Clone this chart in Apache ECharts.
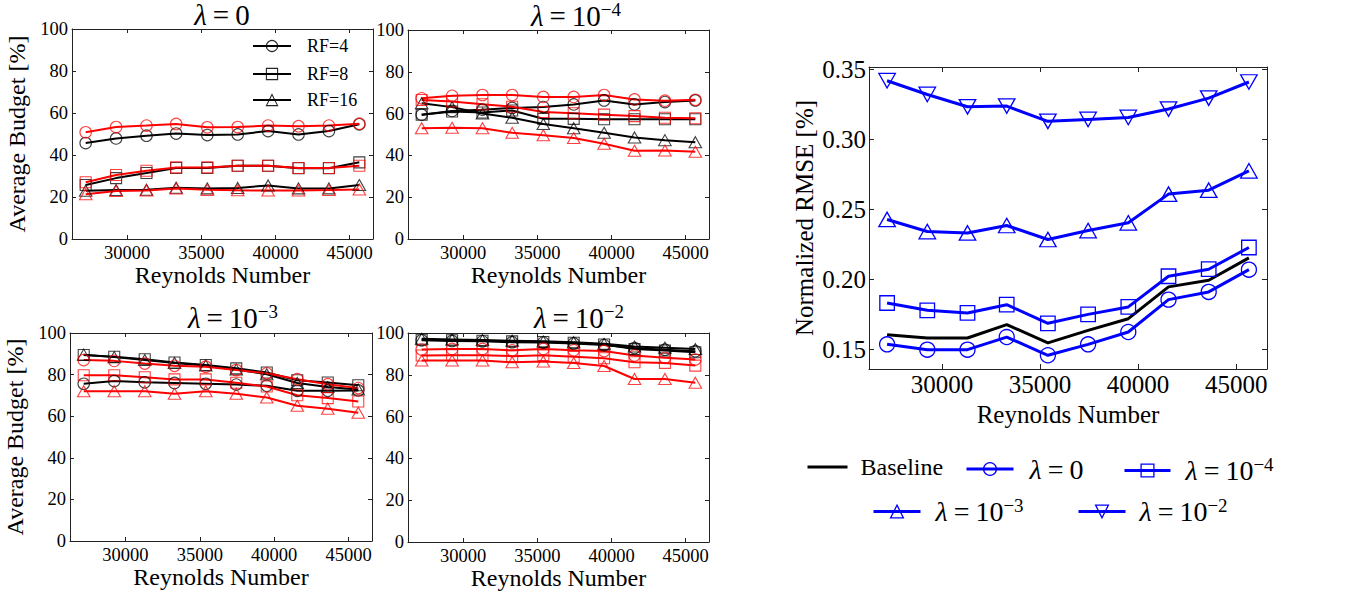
<!DOCTYPE html>
<html><head><meta charset="utf-8">
<script src="https://cdn.jsdelivr.net/npm/echarts@6/dist/echarts.min.js"></script>
<style>html,body{margin:0;padding:0;background:#fff}#c{width:1356px;height:593px}</style>
</head><body><div id="c"></div>
<script>
// ---------- data ----------
const reynolds = [27200, 29250, 31300, 33300, 35400, 37450, 39500, 41550, 43600, 45650];
const reTicks = [30000, 35000, 40000, 45000];
const budgetTicks = [0, 20, 40, 60, 80, 100];
const rmseTicks = [0.15, 0.20, 0.25, 0.30, 0.35];
const rfNames = ['RF=4', 'RF=8', 'RF=16'];

// lambda = 0
const lam0BlackRF4 = [45.7, 47.9, 49.2, 50.2, 49.5, 49.8, 51.4, 49.8, 51.4, 54.6];
const lam0BlackRF8 = [25.7, 29.0, 31.4, 33.8, 33.8, 34.9, 34.9, 33.7, 33.7, 36.5];
const lam0BlackRF16 = [23.0, 23.3, 23.5, 24.4, 24.1, 24.3, 25.5, 24.1, 24.1, 25.7];
const lam0RedRF4 = [50.8, 53.3, 54.0, 54.8, 53.2, 53.3, 54.0, 53.7, 54.0, 54.9];
const lam0RedRF8 = [27.0, 30.5, 32.5, 34.1, 34.1, 34.9, 34.9, 33.8, 33.8, 34.9];
const lam0RedRF16 = [21.3, 22.9, 23.1, 24.0, 23.4, 23.2, 23.1, 23.1, 23.3, 23.6];
// lambda = 1e-4
const lam4BlackRF4 = [59.5, 61.3, 61.9, 62.7, 63.1, 64.4, 66.3, 64.4, 65.5, 66.3];
const lam4BlackRF8 = [59.5, 61.0, 60.5, 61.5, 57.5, 57.5, 57.3, 57.3, 57.3, 57.3];
const lam4BlackRF16 = [65.0, 63.1, 60.0, 58.0, 55.0, 53.0, 50.8, 48.6, 47.3, 46.3];
const lam4RedRF4 = [67.3, 68.5, 68.9, 68.9, 68.0, 68.0, 68.9, 66.8, 66.2, 66.6];
const lam4RedRF8 = [66.5, 65.8, 64.5, 63.3, 60.8, 60.2, 59.5, 58.8, 58.0, 57.8];
const lam4RedRF16 = [53.0, 53.2, 53.0, 50.8, 49.6, 48.3, 45.6, 42.2, 42.3, 41.7];
// lambda = 1e-3
const lam3BlackRF4 = [75.6, 76.9, 76.3, 76.0, 75.6, 75.2, 74.6, 72.2, 72.2, 72.4];
const lam3BlackRF8 = [89.4, 88.6, 87.4, 85.8, 84.6, 83.0, 81.0, 77.3, 76.2, 74.9];
const lam3BlackRF16 = [89.6, 88.4, 87.0, 85.6, 84.4, 82.4, 80.2, 76.0, 74.0, 72.8];
const lam3RedRF4 = [87.0, 86.6, 85.3, 84.2, 83.8, 82.2, 80.6, 77.8, 75.4, 73.5];
const lam3RedRF8 = [79.7, 79.7, 78.7, 77.7, 77.7, 76.1, 74.3, 70.1, 68.7, 67.1];
const lam3RedRF16 = [72.0, 72.0, 72.0, 70.8, 72.0, 70.8, 69.0, 65.0, 63.6, 61.7];
// lambda = 1e-2
const lam2BlackRF4 = [96.5, 96.2, 96.0, 95.6, 95.4, 95.0, 94.2, 92.8, 92.0, 91.3];
const lam2BlackRF8 = [96.8, 96.5, 96.3, 96.0, 95.7, 95.3, 94.5, 92.3, 91.6, 90.8];
const lam2BlackRF16 = [97.2, 96.9, 96.6, 96.3, 96.0, 95.6, 94.8, 93.5, 93.0, 92.3];
const lam2RedRF4 = [92.1, 92.4, 92.4, 91.7, 92.4, 91.7, 91.4, 89.2, 88.1, 87.3];
const lam2RedRF8 = [89.2, 89.4, 89.4, 88.9, 89.4, 88.6, 87.9, 86.0, 85.7, 84.4];
const lam2RedRF16 = [86.8, 86.8, 86.8, 86.0, 86.4, 85.6, 84.2, 78.0, 78.0, 76.2];

// normalized RMSE
const rmseBaseline = [0.1607, 0.1583, 0.1583, 0.1679, 0.1548, 0.1638, 0.1721, 0.1948, 0.1995, 0.2155];
const rmseLam0 = [0.1538, 0.1500, 0.1500, 0.1590, 0.1460, 0.1538, 0.1626, 0.1857, 0.1912, 0.2071];
const rmseLam4 = [0.1833, 0.1781, 0.1762, 0.1821, 0.1688, 0.1752, 0.1805, 0.2024, 0.2074, 0.2229];
const rmseLam3 = [0.2429, 0.2343, 0.2333, 0.2386, 0.2286, 0.2350, 0.2405, 0.2610, 0.2638, 0.2776];
const rmseLam2 = [0.3419, 0.3321, 0.3233, 0.3238, 0.3129, 0.3143, 0.3157, 0.3217, 0.3295, 0.3410];

// ---------- chart ----------
const F = "'Liberation Serif', 'Times New Roman', serif";
const pts = vals => reynolds.map((r, i) => [r, vals[i]]);
function padRange(arr) {
  const mn = Math.min(...arr), mx = Math.max(...arr), p = 0.05 * (mx - mn);
  return [mn - p, mx + p];
}
const [reMin, reMax] = padRange(reynolds);
const allRmse = [].concat(rmseBaseline, rmseLam0, rmseLam4, rmseLam3, rmseLam2);
const [rmMin, rmMax] = padRange(allRmse);

const xAxes = [], yAxes = [], grids = [], series = [];
const frame = '#222';
function addGrid(g, box, yMin, yMax, yTicks, yFmt, o) {
  grids.push(Object.assign({ containLabel: false }, box));
  const base = {
    type: 'value', gridIndex: g,
    axisLine: { show: true, onZero: false, lineStyle: { color: frame, width: 1 } },
    splitLine: { show: false }, animation: false
  };
  const nameStyle = { fontFamily: F, fontSize: o.nfs, color: '#000' };
  xAxes.push(Object.assign({}, base, {
    position: 'bottom', min: reMin, max: reMax,
    axisTick: { show: true, inside: true, length: o.tick, customValues: reTicks, lineStyle: { color: frame } },
    axisLabel: { show: true, customValues: reTicks, formatter: v => String(v), fontFamily: F, fontSize: o.fs, color: '#000', margin: o.xm },
    name: 'Reynolds Number', nameLocation: 'middle', nameGap: o.xg, nameTextStyle: nameStyle
  }));
  xAxes.push(Object.assign({}, base, {
    position: 'top', min: reMin, max: reMax,
    axisTick: { show: true, inside: true, length: o.tick, customValues: reTicks, lineStyle: { color: frame } },
    axisLabel: { show: false }
  }));
  yAxes.push(Object.assign({}, base, {
    position: 'left', min: yMin, max: yMax,
    axisTick: { show: true, inside: true, length: o.tick, customValues: yTicks, lineStyle: { color: frame } },
    axisLabel: { show: true, customValues: yTicks, formatter: yFmt, fontFamily: F, fontSize: o.fs, color: '#000', margin: o.ym },
    name: o.yName || '', nameLocation: 'middle', nameGap: o.yg, nameTextStyle: nameStyle
  }));
  yAxes.push(Object.assign({}, base, {
    position: 'right', min: yMin, max: yMax,
    axisTick: { show: true, inside: true, length: o.tick, customValues: yTicks, lineStyle: { color: frame } },
    axisLabel: { show: false }
  }));
}

const shapes = ['circle', 'rect', 'triangle'];
const sizes = [11.5, 11, [12.5, 11]];
const panels = [
  { box: { left: 72, top: 29, width: 301, height: 210 }, black: [lam0BlackRF4, lam0BlackRF8, lam0BlackRF16], red: [lam0RedRF4, lam0RedRF8, lam0RedRF16], yName: 'Average Budget [%]' },
  { box: { left: 408, top: 30, width: 301, height: 209 }, black: [lam4BlackRF4, lam4BlackRF8, lam4BlackRF16], red: [lam4RedRF4, lam4RedRF8, lam4RedRF16] },
  { box: { left: 70, top: 333, width: 302, height: 208 }, black: [lam3BlackRF4, lam3BlackRF8, lam3BlackRF16], red: [lam3RedRF4, lam3RedRF8, lam3RedRF16], yName: 'Average Budget [%]' },
  { box: { left: 408, top: 333, width: 301, height: 209 }, black: [lam2BlackRF4, lam2BlackRF8, lam2BlackRF16], red: [lam2RedRF4, lam2RedRF8, lam2RedRF16] }
];
panels.forEach((p, g) => {
  addGrid(g, p.box, 0, 100, budgetTicks, v => String(v),
    { fs: 18.5, nfs: 24, tick: 4, xm: 4, ym: 4, xg: 22, yg: 43, yName: p.yName });
  ['black', 'red'].forEach(col => {
    const c = col === 'black' ? '0,0,0' : '255,0,0';
    p[col].forEach((vals, k) => {
      series.push({
        type: 'line', name: col === 'black' ? rfNames[k] : rfNames[k] + ' (red)',
        xAxisIndex: 2 * g, yAxisIndex: 2 * g, data: pts(vals),
        symbol: shapes[k], symbolSize: sizes[k], showSymbol: true,
        lineStyle: { color: 'rgb(' + c + ')', width: 2 },
        itemStyle: { color: 'rgba(0,0,0,0)', borderColor: 'rgba(' + c + ',0.75)', borderWidth: 1.1 },
        emphasis: { disabled: true }, animation: false, silent: true
      });
    });
  });
});

// right chart
addGrid(4, { left: 869, top: 67, width: 398, height: 302 }, rmMin, rmMax, rmseTicks, v => v.toFixed(2),
  { fs: 25, nfs: 25, tick: 5, xm: 3, ym: 3, xg: 30, yg: 52, yName: 'Normalized RMSE [%]' });
const blue = '#0000ff';
const rmseSeries = [
  { name: 'Baseline', vals: rmseBaseline, color: '#000', symbol: 'circle', size: 0 },
  { name: 'lam0', vals: rmseLam0, color: blue, symbol: 'circle', size: 15 },
  { name: 'lam4', vals: rmseLam4, color: blue, symbol: 'rect', size: 14.5 },
  { name: 'lam3', vals: rmseLam3, color: blue, symbol: 'triangle', size: [16.5, 14.5] },
  { name: 'lam2', vals: rmseLam2, color: blue, symbol: 'triangle', size: [16.5, 14.5], rot: 180 }
];
rmseSeries.forEach(s => {
  series.push({
    type: 'line', name: s.name, xAxisIndex: 8, yAxisIndex: 8, data: pts(s.vals),
    symbol: s.symbol, symbolSize: s.size, symbolRotate: s.rot || 0, showSymbol: s.size !== 0,
    lineStyle: { color: s.color, width: 3 },
    itemStyle: { color: 'rgba(0,0,0,0)', borderColor: s.size ? s.color : 'rgba(0,0,0,0)', borderWidth: s.size ? 1.3 : 0 },
    emphasis: { disabled: true }, animation: false, silent: true
  });
});

// math text helpers
const mathRich = (fs, sfs, raise) => ({
  l: { fontFamily: F, fontStyle: 'italic', fontSize: fs, color: '#000' },
  t: { fontFamily: F, fontSize: fs, color: '#000' },
  e: { fontFamily: F, fontSize: fs, color: '#000', padding: [0, Math.round(fs * 0.22), 0, Math.round(fs * 0.22)] },
  s: { fontFamily: F, fontSize: sfs, color: '#000', verticalAlign: 'bottom', padding: [0, 0, raise, 0] },
  b: { fontFamily: F, fontSize: 24, color: '#000' }
});
const lamText = exp => exp === null ? '{l|λ}{e|=}{t|0}' : '{l|λ}{e|=}{t|10}{s|−' + exp + '}';

const titles = [
  { x: 222, y: 15, exp: null }, { x: 576, y: 16, exp: 4 },
  { x: 233, y: 318, exp: 3 }, { x: 579, y: 318, exp: 2 }
];
const graphics = titles.map(t => ({
  type: 'text', x: t.x, y: t.y, silent: true,
  style: { text: lamText(t.exp), rich: mathRich(29, 19, 13), align: 'center', verticalAlign: 'middle' }
}));

// legends
const legends = [];
rfNames.forEach((n, k) => {
  legends.push({
    data: [n], left: 252, top: [37, 65, 91][k], padding: 0, selectedMode: false,
    itemWidth: 38, itemHeight: 14,
    lineStyle: { width: 2, color: '#000' },
    itemStyle: { borderWidth: 1.1, borderColor: 'rgba(0,0,0,0.85)' },
    textStyle: { fontFamily: F, fontSize: 18, color: '#000', padding: [0, 0, 0, 11] }
  });
});
const legLabel = { Baseline: '{b|Baseline}', lam0: lamText(null), lam4: lamText(4), lam3: lamText(3), lam2: lamText(2) };
const legPos = [
  { n: 'Baseline', left: 806, top: 455, w: 40, pad: 8 },
  { n: 'lam0', left: 965, top: 455, w: 47, pad: 11 },
  { n: 'lam4', left: 1123, top: 455, w: 46, pad: 10 },
  { n: 'lam3', left: 872, top: 496, w: 47, pad: 10 },
  { n: 'lam2', left: 1077, top: 496, w: 47, pad: 9 }
];
legPos.forEach(p => {
  legends.push({
    data: [p.n], left: p.left, top: p.top, padding: 0, selectedMode: false,
    itemWidth: p.w, itemHeight: 16,
    lineStyle: { width: 3 },
    itemStyle: { borderWidth: p.n === 'Baseline' ? 0 : 1.3 },
    formatter: name => legLabel[name],
    textStyle: { fontFamily: F, fontSize: 28, color: '#000', padding: [0, 0, 0, p.pad], rich: mathRich(28, 19, 12) }
  });
});

const chart = echarts.init(document.getElementById('c'), null, { renderer: 'svg' });
chart.setOption({
  backgroundColor: '#fff', animation: false,
  grid: grids, xAxis: xAxes, yAxis: yAxes, series: series,
  legend: legends, graphic: graphics
});
</script></body></html>
